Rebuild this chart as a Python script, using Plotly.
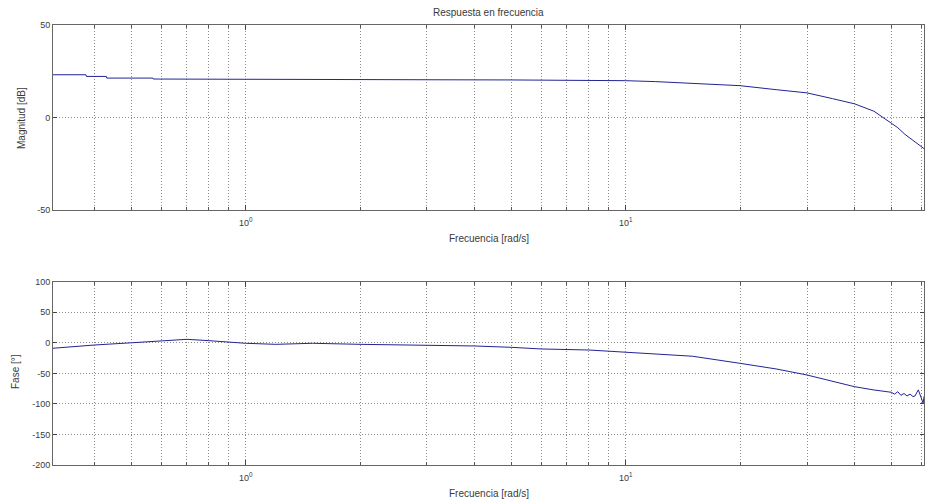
import plotly.graph_objects as go

# ---------------- data ----------------
freq_mag = [0.31, 0.38, 0.381, 0.43, 0.431, 0.57, 0.571, 1.5, 1.51, 3, 5, 7,
            10, 12, 15, 20, 25, 30, 35, 40, 45, 49.6, 52, 54.3, 57, 59.5, 61.3]
mag_db = [23.1, 23.1, 22.2, 22.2, 21.3, 21.3, 20.8, 20.8, 20.4, 20.4, 20.3, 20.2,
          19.9, 19.4, 18.6, 17.2, 15.0, 13.3, 10.2, 7.4, 3.4, -2.9, -5.5, -9.1, -12.5, -15.4, -17.2]

freq_ph = [0.31, 0.35, 0.4, 0.5, 0.6, 0.7, 0.8, 0.9, 1, 1.2, 1.5, 2, 3, 4, 5, 6, 8,
           10, 12, 15, 20, 25, 30, 36.6, 40, 44.8, 48, 50, 51, 52, 53, 54, 55, 56,
           57, 57.7, 58.9, 59.5, 60.1, 60.6, 61, 61.5]
phase_deg = [-9, -6.4, -3.6, 0, 3, 5.7, 3.5, 0.8, -0.8, -2.5, -0.8, -2.5, -3.6, -5.2, -7.4, -10.1, -11.8,
             -15.6, -17.5, -22, -33.6, -43, -52.7, -66, -71.8, -77, -79, -81, -84, -80, -86, -83, -87, -84,
             -88, -87, -77, -86, -91, -98.5, -88, -97]

x_major = [1, 10]
x_major_text = ["10<sup>0</sup>", "10<sup>1</sup>"]
x_minor = [0.4, 0.5, 0.6, 0.7, 0.8, 0.9, 2, 3, 4, 5, 6, 7, 8, 9, 20, 30, 40, 50, 60]
mag_ticks = [-50, 0, 50]
mag_ticktext = ["-50", "0", "50"]
ph_ticks = [-200, -150, -100, -50, 0, 50, 100]
ph_ticktext = ["-200", "-150", "-100", "-50", "0", "50", "100"]

title_text = "Respuesta en frecuencia"
xlabel = "Frecuencia [rad/s]"
ylabel_mag = "Magnitud [dB]"
ylabel_ph = "Fase [°]"

# ---------------- layout helpers ----------------
W, H = 925, 501
L, R, T, B = 53, 1, 25, 36
def px_x(px):
    return (px - L) / (W - L - R)
def px_y(py):
    return (H - B - py) / (H - T - B)

FONT = "Liberation Sans, Arial, sans-serif"
TXT = "#3a3a3a"
LINE = "rgb(35,35,150)"
GRID = "#8c8c8c"
GDASH = "1px,2px"

fig = go.Figure()
fig.add_trace(go.Scatter(x=freq_mag, y=mag_db, mode="lines",
                         line=dict(color=LINE, width=1), xaxis="x", yaxis="y",
                         showlegend=False, hoverinfo="skip"))
fig.add_trace(go.Scatter(x=freq_ph, y=phase_deg, mode="lines",
                         line=dict(color=LINE, width=1), xaxis="x2", yaxis="y2",
                         showlegend=False, hoverinfo="skip"))

xr = [-0.507, 1.785]
common_x = dict(type="log", range=xr, tickmode="array", tickvals=x_major,
                ticktext=x_major_text, showgrid=True, gridcolor=GRID,
                griddash=GDASH, gridwidth=1, ticks="inside", ticklen=5,
                tickcolor="#444", showline=True, linecolor="#666", linewidth=1,
                mirror="ticks", zeroline=False, ticklabelstandoff=4,
                minor=dict(tickmode="array", tickvals=x_minor, showgrid=True,
                           gridcolor=GRID, griddash=GDASH, gridwidth=1,
                           ticks="inside", ticklen=3, tickcolor="#555"),
                tickfont=dict(family=FONT, size=9, color=TXT))
common_y = dict(showgrid=True, gridcolor=GRID, griddash=GDASH, gridwidth=1,
                ticks="inside", ticklen=4, tickcolor="#444", showline=True,
                linecolor="#666", linewidth=1, mirror="ticks", zeroline=False,
                tickfont=dict(family=FONT, size=9, color=TXT), tickmode="array")

top_bottom = px_y(210)
bot_top = px_y(281.7)

fig.update_layout(
    width=W, height=H,
    margin=dict(l=L, r=R, t=T, b=B),
    paper_bgcolor="white", plot_bgcolor="white",
    xaxis=dict(common_x, domain=[0, 1], anchor="y"),
    yaxis=dict(common_y, domain=[top_bottom, 1], range=[-50, 50], tickvals=mag_ticks,
               ticktext=mag_ticktext, anchor="x"),
    xaxis2=dict(common_x, domain=[0, 1], anchor="y2"),
    yaxis2=dict(common_y, domain=[0, bot_top], range=[-200, 100], tickvals=ph_ticks,
                ticktext=ph_ticktext, anchor="x2"),
    font=dict(family=FONT, color=TXT),
)

ann = dict(xref="paper", yref="paper", showarrow=False,
           font=dict(family=FONT, size=10, color=TXT))
fig.add_annotation(ann, text=title_text, x=px_x(488), y=px_y(13), xanchor="center", yanchor="middle")
fig.add_annotation(ann, text=xlabel, x=px_x(489), y=px_y(238), xanchor="center", yanchor="middle")
fig.add_annotation(ann, text=xlabel, x=px_x(489), y=px_y(493), xanchor="center", yanchor="middle")
fig.add_annotation(ann, text=ylabel_mag, x=px_x(22), y=px_y(118), xanchor="center", yanchor="middle", textangle=-90)
fig.add_annotation(ann, text=ylabel_ph, x=px_x(15), y=px_y(372), xanchor="center", yanchor="middle", textangle=-90)

fig.write_html("out.html")
